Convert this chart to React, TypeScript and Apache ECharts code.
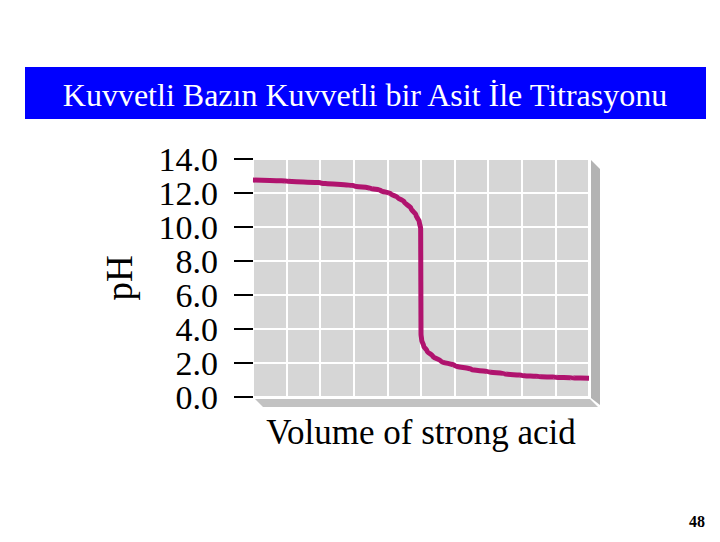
import React, { useEffect, useRef } from "react";
import * as echarts from "echarts";

const titleText = "Kuvvetli Bazın Kuvvetli bir Asit İle Titrasyonu";
const xAxisName = "Volume of strong acid";
const yAxisName = "pH";
const pageNumber = "48";

const volume = [0, 1, 2, 3, 3.5, 3.8, 4.1, 4.3, 4.5, 4.7, 4.85, 4.95, 4.99, 5.0, 5.02, 5.08, 5.18, 5.35, 5.6, 6.0, 6.5, 7.0, 7.5, 8.0, 8.5, 9.0, 9.5, 10.0];
const phValues = [12.76, 12.7, 12.6, 12.42, 12.28, 12.15, 11.95, 11.75, 11.48, 11.1, 10.7, 10.3, 9.9, 3.7, 3.35, 3.0, 2.7, 2.4, 2.1, 1.85, 1.62, 1.48, 1.36, 1.27, 1.2, 1.16, 1.13, 1.1];

const yTicks = [0, 2, 4, 6, 8, 10, 12, 14];

export default function App() {
  const ref = useRef<HTMLDivElement>(null);
  useEffect(() => {
    if (!ref.current) return;
    const chart = echarts.init(ref.current, null, { renderer: "svg" });
    const serif = "'Liberation Serif', 'Times New Roman', serif";
    chart.setOption({
      animation: false,
      backgroundColor: "#ffffff",
      graphic: [
        { type: "rect", shape: { x: 25, y: 67, width: 681, height: 52 }, style: { fill: "#0000ff" }, z: 1 },
        {
          type: "text",
          x: 365,
          y: 95,
          style: { text: titleText, fill: "#ffffff", font: `32px ${serif}`, align: "center", verticalAlign: "middle" },
          z: 2,
        },
        { type: "polygon", shape: { points: [[591, 160], [600, 169], [600, 405], [591, 398]] }, style: { fill: "#b3b3b3" }, z: 0 },
        { type: "polygon", shape: { points: [[255, 399], [263, 407], [598, 407], [590, 399]] }, style: { fill: "#c2c2c2" }, z: 0 },
        {
          type: "text",
          x: 705,
          y: 521,
          style: { text: pageNumber, fill: "#000000", font: `bold 16px ${serif}`, align: "right", verticalAlign: "middle" },
        },
      ],
      grid: {
        left: 253,
        right: 131,
        top: 159,
        bottom: 145,
        show: true,
        backgroundColor: "#d6d6d6",
        borderWidth: 0,
      },
      xAxis: {
        type: "value",
        min: 0,
        max: 10,
        interval: 1,
        name: xAxisName,
        nameLocation: "middle",
        nameGap: 18,
        nameTextStyle: { fontFamily: serif, fontSize: 35, color: "#000", verticalAlign: "top" },
        axisLine: { show: false },
        axisTick: { show: false },
        axisLabel: { show: false },
        splitLine: { show: true, lineStyle: { color: "#ffffff", width: 2 } },
      },
      yAxis: {
        type: "value",
        min: 0,
        max: 14,
        interval: 2,
        offset: 3,
        name: yAxisName,
        nameLocation: "middle",
        nameRotate: 90,
        nameGap: 112,
        nameTextStyle: { fontFamily: serif, fontSize: 37, color: "#000" },
        axisLine: { show: false },
        axisTick: { show: true, length: 19, lineStyle: { color: "#000", width: 2 } },
        axisLabel: {
          margin: 32,
          fontFamily: serif,
          fontSize: 34,
          color: "#000",
          formatter: (v: number) => (yTicks.includes(v) ? v.toFixed(1) : ""),
        },
        splitLine: { show: true, lineStyle: { color: "#ffffff", width: 2 } },
      },
      series: [
        {
          type: "line",
          data: volume.map((v, i) => [v, phValues[i]]),
          showSymbol: false,
          smooth: 0.3,
          smoothMonotone: "y",
          lineStyle: { color: "#b0136e", width: 5 },
          clip: false,
        },
      ],
    });
    return () => chart.dispose();
  }, []);
  return <div ref={ref} style={{ position: "absolute", left: 0, top: 0, width: 720, height: 542 }} />;
}
